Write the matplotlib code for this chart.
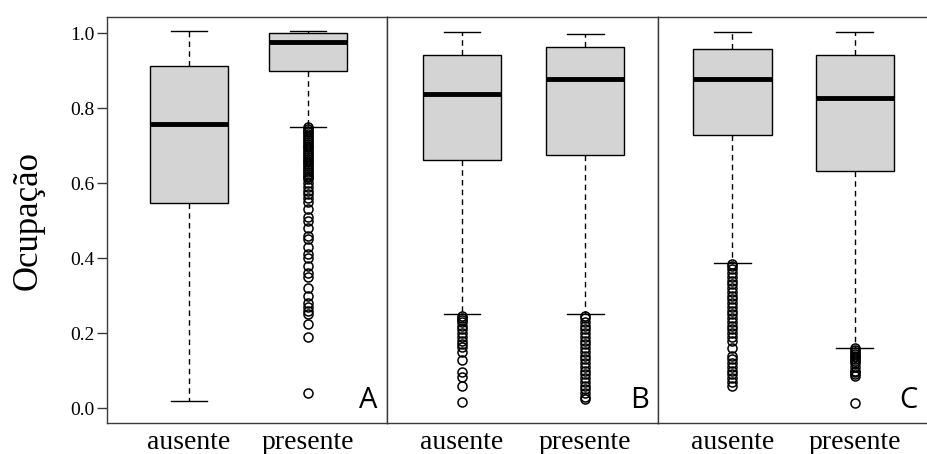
import matplotlib
matplotlib.use("Agg")
import matplotlib.pyplot as plt

# Data (occupancy box stats per panel)
categories = ['ausente', 'presente']
panels = ['A', 'B', 'C']

whislo = [[0.02, 0.75], [0.25, 0.25], [0.387, 0.16]]
q1 = [[0.547, 0.899], [0.661, 0.675], [0.729, 0.632]]
med = [[0.758, 0.976], [0.837, 0.877], [0.878, 0.826]]
q3 = [[0.912, 1.0], [0.941, 0.962], [0.958, 0.941]]
whishi = [[1.006, 1.006], [1.002, 0.997], [1.002, 1.002]]

fliers = [
    [[],
     [0.75, 0.745, 0.74, 0.735, 0.73, 0.725, 0.72, 0.715, 0.71, 0.705, 0.70,
      0.695, 0.69, 0.685, 0.68, 0.675, 0.67, 0.665, 0.66, 0.655, 0.65, 0.645,
      0.64, 0.635, 0.63, 0.625, 0.62, 0.615, 0.61, 0.60, 0.59, 0.58, 0.57,
      0.56, 0.55, 0.53, 0.51, 0.50, 0.48, 0.46, 0.45, 0.43, 0.41, 0.40, 0.38,
      0.36, 0.35, 0.32, 0.30, 0.28, 0.27, 0.26, 0.25, 0.225, 0.19, 0.04]],
    [[0.245, 0.24, 0.235, 0.23, 0.22, 0.21, 0.20, 0.19, 0.18, 0.17, 0.163,
      0.149, 0.128, 0.096, 0.083, 0.059, 0.016],
     [0.245, 0.24, 0.23, 0.22, 0.21, 0.20, 0.19, 0.18, 0.17, 0.16, 0.15, 0.14,
      0.13, 0.12, 0.11, 0.10, 0.09, 0.08, 0.07, 0.06, 0.05, 0.04, 0.03, 0.025]],
    [[0.385, 0.38, 0.37, 0.36, 0.35, 0.34, 0.33, 0.32, 0.31, 0.30, 0.29, 0.28,
      0.27, 0.26, 0.25, 0.24, 0.23, 0.22, 0.21, 0.20, 0.19, 0.18, 0.16, 0.14,
      0.13, 0.12, 0.11, 0.10, 0.09, 0.08, 0.07, 0.06],
     [0.16, 0.155, 0.15, 0.145, 0.14, 0.135, 0.13, 0.125, 0.12, 0.11, 0.10,
      0.095, 0.09, 0.085, 0.013]],
]

yticks = [0.0, 0.2, 0.4, 0.6, 0.8, 1.0]

# layout (pixels of the 927x454 reference)
W, H = 927, 454
edges = [107, 387, 658, 927]
top, bottom = 17, 423
xlims = [(0.311, 2.664), (0.39, 2.593), (0.393, 2.59)]
widths = [0.655, 0.634, 0.64]

serif = ['Liberation Serif', 'DejaVu Serif']
frame = '#3a3a3a'

fig = plt.figure(figsize=(W / 100, H / 100), dpi=100)

for i, name in enumerate(panels):
    ax = fig.add_axes([edges[i] / W, 1 - bottom / H,
                       (edges[i + 1] - edges[i]) / W, (bottom - top) / H])
    stats = []
    for j, cat in enumerate(categories):
        stats.append(dict(label=cat, whislo=whislo[i][j], q1=q1[i][j],
                          med=med[i][j], q3=q3[i][j], whishi=whishi[i][j],
                          fliers=fliers[i][j]))
    ax.bxp(stats, positions=[1, 2], widths=widths[i], capwidths=0.3,
           patch_artist=True,
           boxprops=dict(facecolor='#d4d4d4', edgecolor='black', linewidth=1.0),
           medianprops=dict(color='black', linewidth=3.5, solid_capstyle='butt'),
           whiskerprops=dict(color='black', linewidth=1.0, linestyle=(0, (4, 3))),
           capprops=dict(color='black', linewidth=1.0),
           flierprops=dict(marker='o', markerfacecolor='none',
                           markeredgecolor='black', markersize=6.5,
                           markeredgewidth=1.1))
    ax.set_xlim(*xlims[i])
    ax.set_ylim(-0.04, 1.043)
    ax.set_xticks([1, 2])
    ax.set_xticklabels(categories, fontsize=20, family=serif)
    ax.tick_params(axis='x', length=0, pad=5)
    for s in ax.spines.values():
        s.set_color(frame)
        s.set_linewidth(1.0)
    if i == 0:
        ax.set_yticks(yticks)
        ax.set_yticklabels([f'{t:.1f}' for t in yticks], fontsize=14, family=serif)
        ax.tick_params(axis='y', length=7, width=1.0, color=frame, pad=2)
        ax.set_ylabel('Ocupação', fontsize=25, family=serif, labelpad=18)
    else:
        ax.set_yticks([])
    if i == 2:
        ax.spines['right'].set_visible(False)
    ax.text(0.965, 0.02, name, transform=ax.transAxes, ha='right', va='bottom',
            fontsize=21, family=['Open Sans', 'DejaVu Sans'])

fig.savefig('out.png', dpi=100)
